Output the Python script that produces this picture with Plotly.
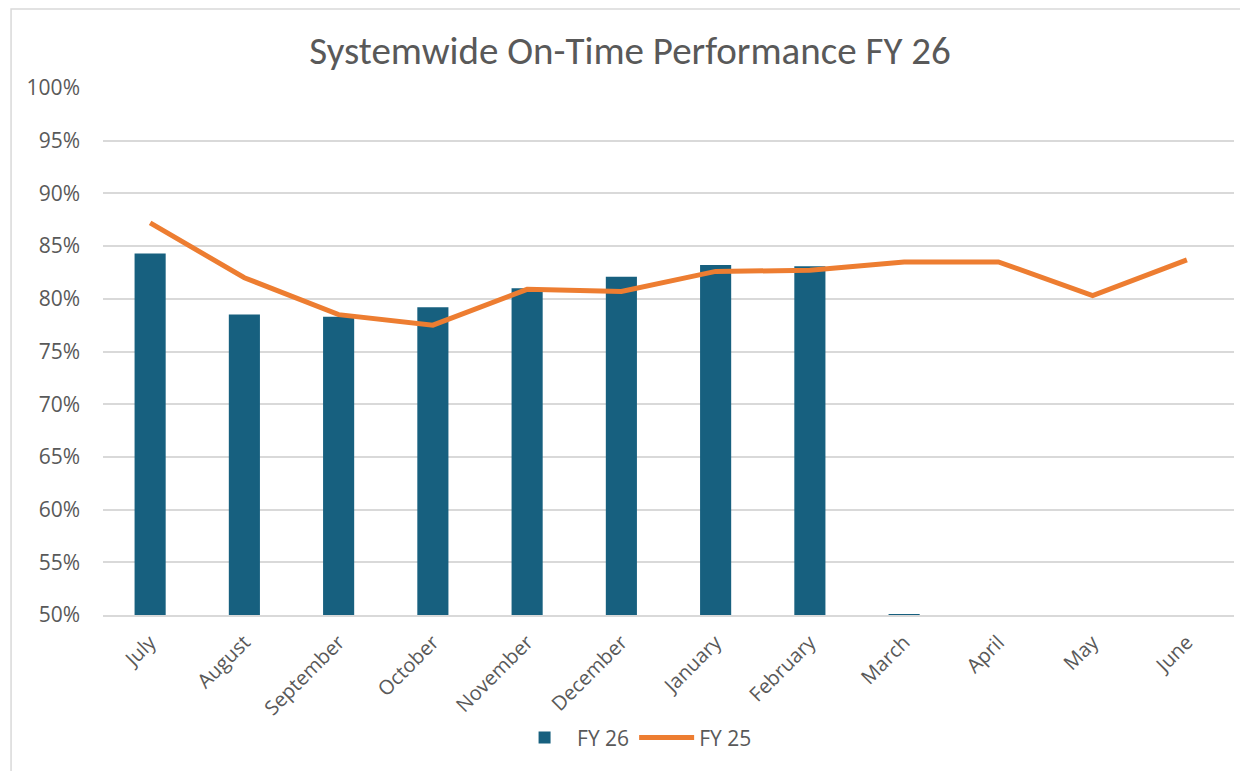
import plotly.graph_objects as go

months = ["July", "August", "September", "October", "November", "December",
          "January", "February", "March", "April", "May", "June"]
fy26 = [0.843, 0.785, 0.783, 0.792, 0.810, 0.821, 0.832, 0.831, 0.501, None, None, None]
fy25 = [0.872, 0.820, 0.785, 0.775, 0.809, 0.807, 0.826, 0.827, 0.835, 0.835, 0.803, 0.837]
y_ticks = [0.50, 0.55, 0.60, 0.65, 0.70, 0.75, 0.80, 0.85, 0.90, 0.95, 1.00]

grey = "#595959"
fig = go.Figure()
fig.add_trace(go.Bar(x=months, y=fy26, name="FY 26", marker_color="#17607F",
                     marker_line_width=0))
fig.add_trace(go.Scatter(x=months, y=fy25, name="FY 25", mode="lines",
                         line=dict(color="#ED7D31", width=5)))

fig.update_layout(
    width=1240, height=763,
    paper_bgcolor="white", plot_bgcolor="white",
    margin=dict(l=95, r=14, t=80, b=156),
    bargap=0.67,
    title=dict(text="Systemwide On-Time Performance FY 26", x=0.5016, xanchor="center",
               y=0.945, yanchor="middle",
               font=dict(family="Carlito, Liberation Sans Narrow, Open Sans", size=39, color=grey)),
    font=dict(family="Open Sans, Noto Sans", color=grey),
    legend=dict(orientation="h", x=0.47, xanchor="center", y=-0.233, yanchor="middle",
                font=dict(family="Open Sans", size=21, color=grey), itemwidth=55,
                traceorder="normal"),
    showlegend=True,
)
fig.update_yaxes(range=[0.5, 1.0], tickvals=y_ticks, tickformat=".0%",
                 showgrid=True, gridcolor="#D9D9D9", gridwidth=1.5,
                 zeroline=False, showline=False, ticklabelstandoff=22,
                 tickfont=dict(family="Open Sans", size=21, color=grey))
fig.update_xaxes(tickangle=-45, showline=True, linecolor="#D9D9D9", linewidth=1.5,
                 ticklabelstandoff=6,
                 tickfont=dict(family="Open Sans", size=20, color=grey))
fig.add_shape(type="rect", xref="paper", yref="paper", x0=-0.0813, x1=1.03, y0=-0.35, y1=1.15,
              line=dict(color="#D9D9D9", width=1.5), layer="below")

fig.write_html("out.html")
